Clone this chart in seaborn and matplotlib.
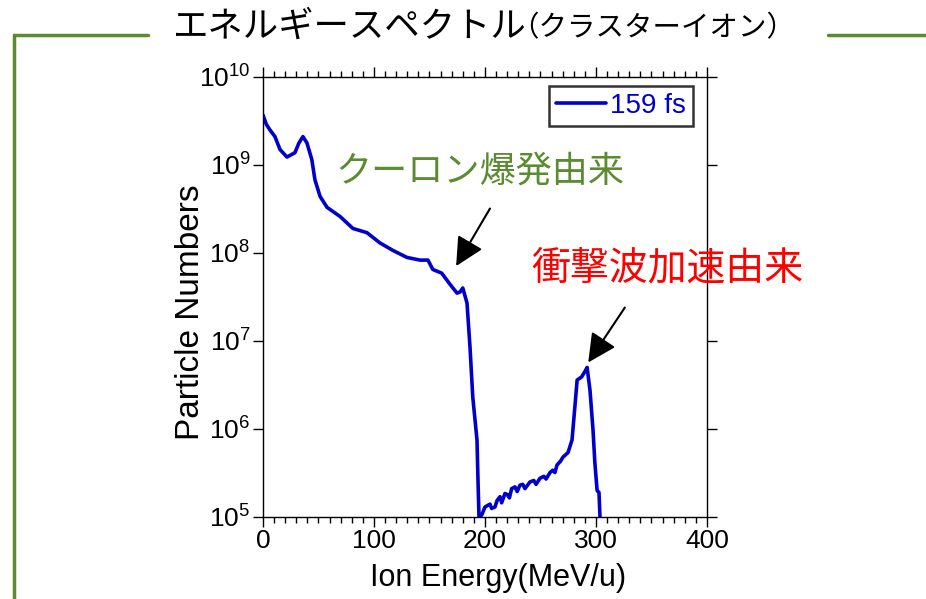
import numpy as np
import pandas as pd
import matplotlib
matplotlib.use('Agg')
import matplotlib.pyplot as plt
from matplotlib.lines import Line2D
from matplotlib.ticker import MultipleLocator, LogLocator, NullLocator
import seaborn as sns

# spectrum (energy in MeV/u, particle numbers)
energy = [0, 3, 6.3, 10.8, 15.3, 21.6, 28.8, 32.4, 36, 39.6, 44, 46.8, 51.4, 57.7,
          69.4, 81, 93.7, 105.4, 117, 129.7, 141.4, 148.6, 153, 161, 168.5, 174.8,
          177.5, 180, 183.8, 186.5, 189, 192.8, 193.7, 194.6, 197, 200, 204.5, 206,
          209, 211, 213.5, 215, 218, 220, 222, 224, 227, 229, 231.5, 234, 236, 240.5,
          244, 246, 249.5, 253, 255, 258.6, 261, 263, 264.9, 268, 270.3, 274.8, 278.4,
          281, 283, 287, 290, 292, 294.6, 297.3, 299, 301, 302.7, 303.6]
counts = [3.7e9, 2.9e9, 2.5e9, 2.1e9, 1.5e9, 1.23e9, 1.38e9, 1.78e9, 2.1e9, 1.78e9,
          1.15e9, 6.8e8, 4.4e8, 3.3e8, 2.6e8, 1.9e8, 1.7e8, 1.3e8, 1.07e8, 8.9e7,
          8.3e7, 8.3e7, 6.5e7, 5.9e7, 4.4e7, 3.5e7, 3.6e7, 4.0e7, 2.7e7, 8.5e6,
          2.3e6, 7.5e5, 2.6e5, 1.0e5, 1.05e5, 1.3e5, 1.4e5, 1.25e5, 1.3e5, 1.55e5,
          1.7e5, 1.45e5, 1.85e5, 1.8e5, 1.65e5, 2.1e5, 2.2e5, 1.95e5, 2.3e5, 2.35e5,
          2.1e5, 2.5e5, 2.6e5, 2.35e5, 2.75e5, 2.9e5, 2.7e5, 3.2e5, 3.4e5, 3.2e5,
          3.9e5, 4.3e5, 4.8e5, 5.4e5, 7.5e5, 1.8e6, 3.6e6, 3.9e6, 4.5e6, 5.0e6,
          2.75e6, 9.8e5, 4.1e5, 2.0e5, 1.9e5, 1.0e5]
series_name = '159 fs'

title_main = 'エネルギースペクトル'
title_sub = '（クラスターイオン）'
note_coulomb = 'クーロン爆発由来'
note_shock = '衝撃波加速由来'

sns.set_style('ticks')
plt.rcParams['font.family'] = ['Liberation Sans', 'Noto Sans CJK JP', 'DejaVu Sans']
plt.rcParams['mathtext.fontset'] = 'custom'
plt.rcParams['mathtext.rm'] = 'Liberation Sans'
for key in ['text.color', 'axes.labelcolor', 'xtick.color', 'ytick.color', 'axes.edgecolor']:
    plt.rcParams[key] = 'black'

df = pd.DataFrame({'energy': energy, 'counts': counts, 'run': series_name})

fig = plt.figure(figsize=(9.26, 5.99), dpi=100)
ax = fig.add_axes([0.284, 0.1369, 0.4795, 0.7346])

sns.lineplot(data=df, x='energy', y='counts', hue='run', palette=['#0000CC'],
             sort=False, estimator=None, linewidth=2.6, ax=ax)
ax.set_yscale('log')
ax.set_xlim(0, 400)
ax.set_ylim(1e5, 1e10)
ax.xaxis.set_major_locator(MultipleLocator(100))
ax.xaxis.set_minor_locator(MultipleLocator(10))
ax.yaxis.set_major_locator(LogLocator(base=10, numticks=10))
ax.yaxis.set_minor_locator(NullLocator())
ax.tick_params(which='both', direction='out', top=True, right=True, labelsize=19, width=1)
ax.tick_params(which='major', length=7, pad=2)
ax.tick_params(which='minor', length=4)
for s in ax.spines.values():
    s.set_linewidth(1)
ax.set_xlabel('Ion Energy(MeV/u)', fontsize=22)
ax.set_ylabel('Particle Numbers', fontsize=24)
ax.xaxis.set_label_coords(0.529, -0.139)
ax.xaxis.label.set_va('center')
ax.yaxis.set_label_coords(-0.164, 0.466)
ax.yaxis.label.set_va('center')

leg = ax.legend(loc='upper right', bbox_to_anchor=(0.968, 0.98), fontsize=20,
                handlelength=1.8, handletextpad=0.15, borderpad=0.25, borderaxespad=0,
                fancybox=False, frameon=True, labelcolor='#0000CC')
leg.get_frame().set_edgecolor('black')
leg.get_frame().set_linewidth(1.8)
leg.set_title(None)

# annotations
ax.text(0.489, 0.785, note_coulomb, transform=ax.transAxes, fontsize=26, color='#5B8C32',
        ha='center', va='center', family=['Noto Sans CJK JP'])
ax.text(0.91, 0.566, note_shock, transform=ax.transAxes, fontsize=28, color='#FF0000',
        ha='center', va='center', family=['Noto Sans CJK JP'])
arrow = dict(arrowstyle='-|>,head_length=0.7,head_width=0.35', color='black', lw=1.5,
             mutation_scale=25, shrinkA=0, shrinkB=0)
ax.annotate('', xy=(174, 7.1e7), xytext=(204.5, 3.2e8), arrowprops=arrow)
ax.annotate('', xy=(293, 5.7e6), xytext=(326, 2.4e7), annotation_clip=False,
            arrowprops=arrow)

# slide title and green frame
fig.text(0.187, 0.955, title_main, fontsize=25.5, ha='left', va='center',
         family=['Noto Sans CJK JP'])
fig.text(0.551, 0.953, title_sub, fontsize=20.5, ha='left', va='center',
         family=['Noto Sans CJK JP'])
green = '#5B8C32'
fig.add_artist(Line2D([14 / 926, 148 / 926], [1 - 35 / 599, 1 - 35 / 599], color=green, lw=2.5))
fig.add_artist(Line2D([828 / 926, 1.0], [1 - 35 / 599, 1 - 35 / 599], color=green, lw=2.5))
fig.add_artist(Line2D([14 / 926, 14 / 926], [0, 1 - 35 / 599], color=green, lw=2.5))

fig.savefig('out.png', dpi=100)
